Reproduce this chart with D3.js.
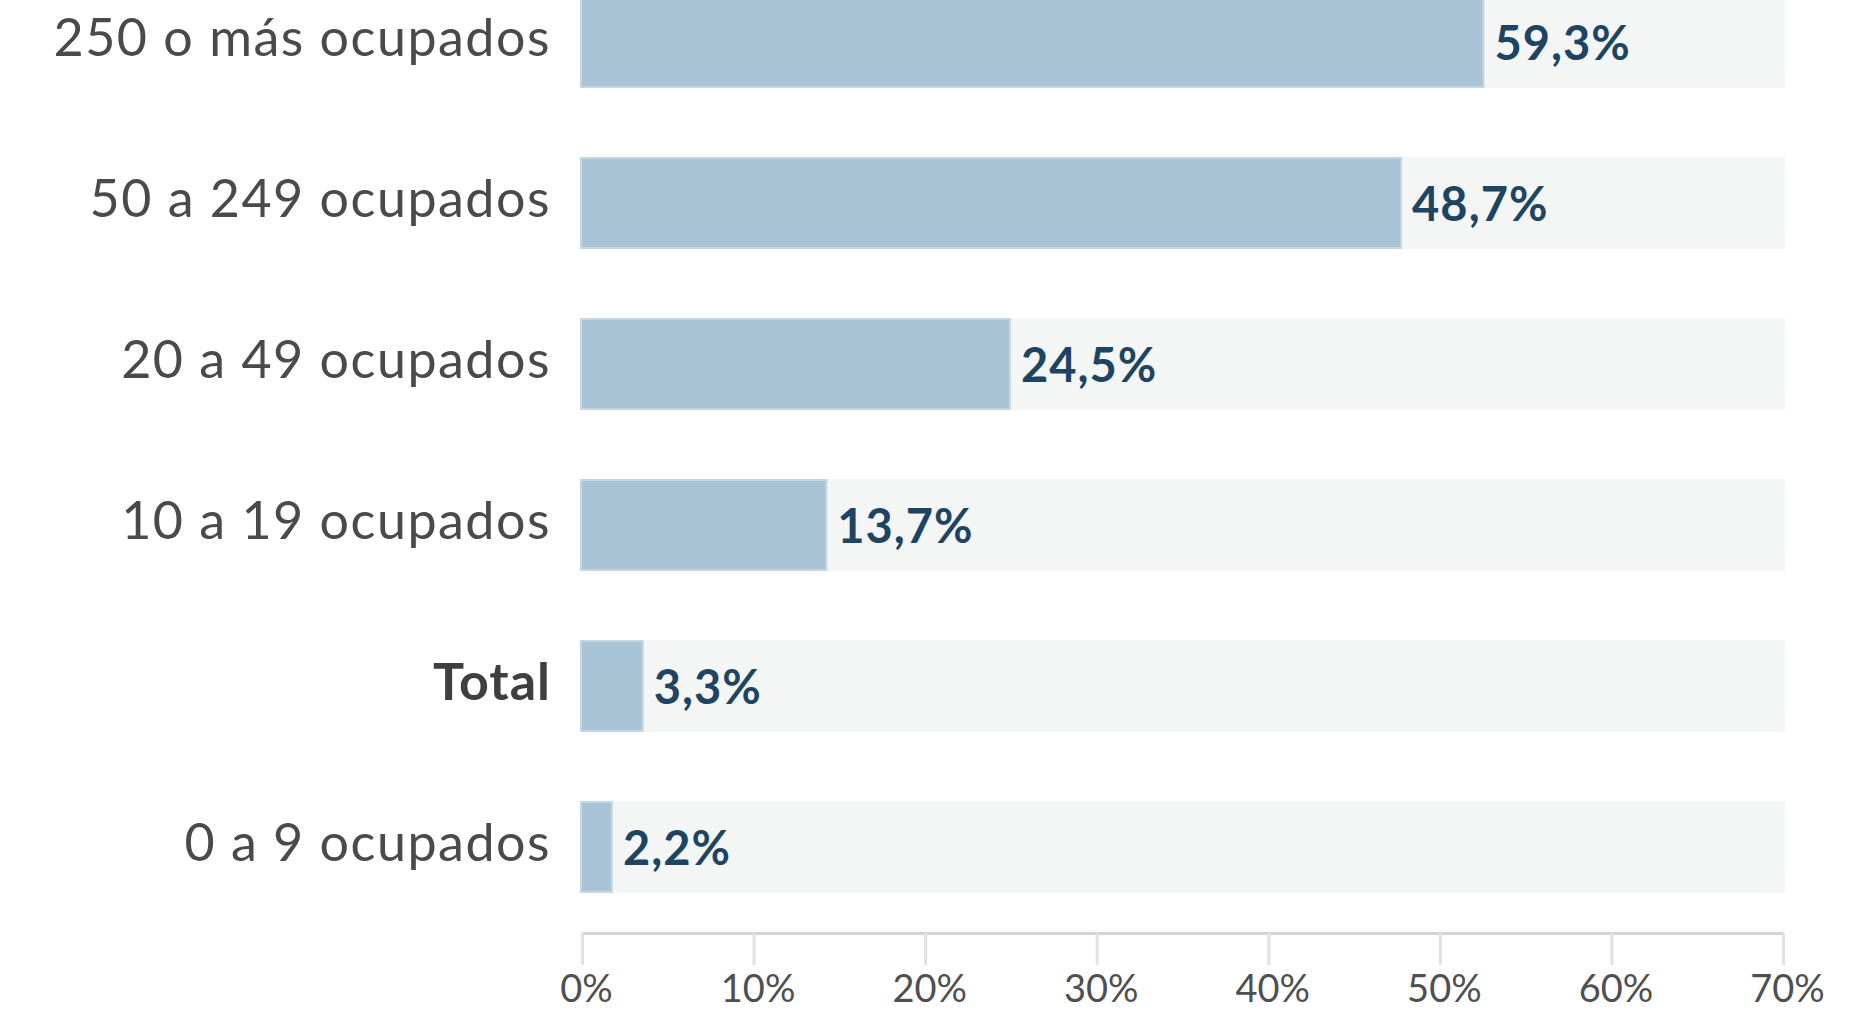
<!DOCTYPE html>
<html>
<head>
<meta charset="utf-8">
<script src="https://cdn.jsdelivr.net/npm/d3@7"></script>
<style>
  body { margin: 0; background: #fff; }
  svg { display: block; }
  .cat { font-family: Lato, "Open Sans", sans-serif; font-weight: 400; fill: #4a4a4a; letter-spacing: 1.5px; }
  .cat.total { font-weight: 700; fill: #3f3f3f; letter-spacing: 1px; }
  .val { font-family: Lato, sans-serif; font-weight: 700; fill: #1e4461; letter-spacing: 1px; }
  .axis text { font-family: Lato, sans-serif; font-weight: 400; fill: #4f4f4f; }
</style>
</head>
<body>
<svg id="chart"></svg>
<script>
const categories = ['250 o más ocupados', '50 a 249 ocupados', '20 a 49 ocupados', '10 a 19 ocupados', 'Total', '0 a 9 ocupados'];
// bar lengths as they appear against the axis (they do not follow the printed labels exactly)
const barValues = [52.6, 47.8, 25.0, 14.3, 3.6, 1.8];
const valueLabels = ['59,3%', '48,7%', '24,5%', '13,7%', '3,3%', '2,2%'];
const xTicks = [0, 10, 20, 30, 40, 50, 60, 70];

const WIDTH = 1870;
const HEIGHT = 1009;
const X_MAX = 70;

const svg = d3.select('#chart')
  .attr('width', WIDTH)
  .attr('height', HEIGHT);

const x = d3.scaleLinear()
  .domain([0, X_MAX])
  .range([582, 1783]);

const y = d3.scaleBand()
  .domain(categories)
  .range([-38.5, 927.5])
  .paddingInner(0.4286)
  .paddingOuter(0.2143);

const rows = categories.map((c, i) => ({ cat: c, value: barValues[i], label: valueLabels[i] }));

// grey track behind each bar
svg.selectAll('.track')
  .data(rows)
  .enter()
  .append('rect')
  .attr('class', 'track')
  .attr('x', x(0) - 2)
  .attr('y', d => y(d.cat))
  .attr('width', x(X_MAX) - x(0) + 4)
  .attr('height', y.bandwidth())
  .attr('fill', '#f4f6f6');

svg.selectAll('.bar')
  .data(rows)
  .enter()
  .append('rect')
  .attr('class', 'bar')
  .attr('x', x(0) - 1)
  .attr('y', d => y(d.cat) + 1)
  .attr('width', d => x(d.value) - x(0))
  .attr('height', y.bandwidth() - 2)
  .attr('fill', '#a9c4d6')
  .attr('stroke', '#c4d7e2')
  .attr('stroke-width', 2);

svg.selectAll('.val')
  .data(rows)
  .enter()
  .append('text')
  .attr('class', 'val')
  .attr('x', d => x(d.value) + 10)
  .attr('y', d => y(d.cat) + y.bandwidth() / 2 + 18)
  .attr('font-size', 47)
  .text(d => d.label);

svg.selectAll('.cat')
  .data(rows)
  .enter()
  .append('text')
  .attr('class', d => d.cat === 'Total' ? 'cat total' : 'cat')
  .attr('x', 551)
  .attr('y', d => y(d.cat) + y.bandwidth() / 2 + 14)
  .attr('text-anchor', 'end')
  .attr('font-size', 52)
  .text(d => d.cat);

const axis = svg.append('g')
  .attr('class', 'axis')
  .attr('transform', 'translate(0, 933)')
  .call(d3.axisBottom(x)
    .tickValues(xTicks)
    .tickFormat(d => d + '%')
    .tickSize(32)
    .tickSizeOuter(0)
    .tickPadding(10));

axis.select('.domain')
  .attr('stroke', '#d4d4d4')
  .attr('stroke-width', 3);
axis.selectAll('.tick line')
  .attr('stroke', '#e2e2e2')
  .attr('stroke-width', 3);
axis.selectAll('.tick text')
  .attr('font-size', 38)
  .attr('dx', 4);
</script>
</body>
</html>
